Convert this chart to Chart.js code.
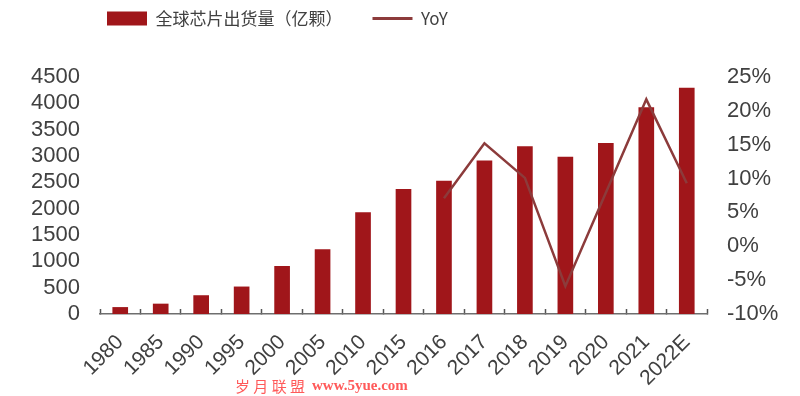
<!DOCTYPE html>
<html>
<head>
<meta charset="utf-8">
<title>全球芯片出货量</title>
<script src="https://cdn.jsdelivr.net/npm/chart.js"></script>
<style>
  html, body { margin: 0; padding: 0; background: #fff; }
  #wrap { width: 800px; height: 396px; position: relative; }
</style>
</head>
<body>
<div id="wrap"><canvas id="chipChart" width="800" height="396"></canvas></div>
<script>
const years = ["1980", "1985", "1990", "1995", "2000", "2005", "2010", "2015", "2016", "2017", "2018", "2019", "2020", "2021", "2022E"];
const shipments = [125, 190, 350, 515, 905, 1225, 1925, 2365, 2525, 2910, 3180, 2980, 3240, 3920, 4290];
const yoy = [null, null, null, null, null, null, null, null, 7.1, 15.2, 10.1, -5.9, 7.9, 21.7, 9.3];
const shipmentTicks = [0, 500, 1000, 1500, 2000, 2500, 3000, 3500, 4000, 4500];
const yoyTicks = [-10, -5, 0, 5, 10, 15, 20, 25];

const labelFont = { family: "'Liberation Sans', Arial, sans-serif", size: 22, lineHeight: 1 };
const labelColor = "#404040";

// nudges the legend to where the original sits (left of centre)
const legendShift = {
	id: "legendShift",
	afterLayout(chart) {
		const l = chart.legend;
		l.left += 77;
		l.right += 77;
		l.top -= 40;
		l.bottom -= 40;
	},
};

const watermark = {
	id: "watermark",
	afterDraw(chart) {
		const ctx = chart.ctx;
		ctx.save();
		ctx.fillStyle = "#ff5a5a";
		ctx.textBaseline = "middle";
		ctx.font = "15px 'Noto Sans CJK SC'";
		ctx.fillText("岁 月 联 盟", 235, 386);
		ctx.font = "bold 15px 'Liberation Serif', serif";
		ctx.fillText("www.5yue.com", 312, 386);
		ctx.restore();
	},
};

new Chart(document.getElementById("chipChart"), {
	data: {
		labels: years,
		datasets: [
			{
				type: "line",
				label: "YoY",
				data: yoy,
				yAxisID: "y1",
				borderColor: "#8c3b3b",
				backgroundColor: "#8c3b3b",
				borderWidth: 2.5,
				pointRadius: 0,
				pointStyle: "line",
				tension: 0,
				order: 0,
			},
			{
				type: "bar",
				label: "全球芯片出货量（亿颗）",
				data: shipments,
				yAxisID: "y",
				backgroundColor: "#a0161a",
				borderWidth: 0,
				barThickness: 15,
				order: 1,
			},
		],
	},
	plugins: [legendShift, watermark],
	options: {
		responsive: false,
		animation: false,
		layout: { padding: { top: 20, bottom: 0, left: 0, right: 0 } },
		plugins: {
			tooltip: { enabled: false },
			legend: {
				position: "top",
				align: "start",
				reverse: true,
				labels: {
					usePointStyle: true,
					pointStyleWidth: 40,
					boxHeight: 14,
					padding: 30,
					color: labelColor,
					font: { family: "'Noto Sans CJK SC', sans-serif", size: 17 },
					generateLabels(chart) {
						const items = Chart.defaults.plugins.legend.labels.generateLabels(chart);
						return items.map((it) => {
							const ds = chart.data.datasets[it.datasetIndex];
							it.pointStyle = ds.type === "line" ? "line" : "rect";
							if (ds.type === "line") {
								it.lineWidth = 3;
								it.strokeStyle = ds.borderColor;
							}
							return it;
						});
					},
				},
			},
		},
		scales: {
			x: {
				offset: true,
				grid: {
					display: true,
					offset: true,
					drawOnChartArea: false,
					drawTicks: true,
					tickLength: -5,
					tickColor: "#555",
					tickWidth: 1.5,
				},
				border: { display: true, color: "#6e6e6e", width: 1.5 },
				ticks: {
					color: labelColor,
					font: { family: labelFont.family, size: 21 },
					minRotation: 45,
					maxRotation: 45,
					padding: 21,
					autoSkip: false,
				},
				afterFit(scale) {
					scale.height = 82;
				},
			},
			y: {
				position: "left",
				min: 0,
				max: 4500,
				afterBuildTicks(scale) {
					scale.ticks = shipmentTicks.map((v) => ({ value: v }));
				},
				grid: { display: false, drawTicks: false },
				border: { display: false },
				ticks: {
					color: labelColor,
					font: labelFont,
					padding: 20,
					autoSkip: false,
					callback: (v) => String(v),
				},
				afterFit(scale) {
					scale.width = 100;
				},
			},
			y1: {
				position: "right",
				min: -10,
				max: 25,
				afterBuildTicks(scale) {
					scale.ticks = yoyTicks.map((v) => ({ value: v }));
				},
				grid: { display: false, drawTicks: false },
				border: { display: false },
				ticks: {
					color: labelColor,
					font: labelFont,
					padding: 20,
					autoSkip: false,
					callback: (v) => v + "%",
				},
				afterFit(scale) {
					scale.width = 93;
				},
			},
		},
	},
});
</script>
</body>
</html>
